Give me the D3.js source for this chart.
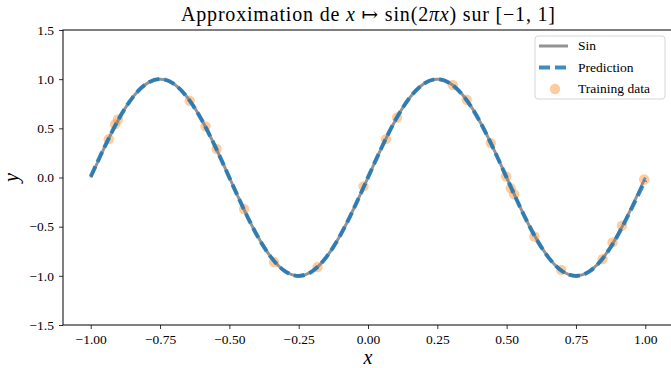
<!DOCTYPE html>
<html>
<head>
<meta charset="utf-8">
<script src="https://cdn.jsdelivr.net/npm/d3@7"></script>
<style>
  body { margin: 0; background: #fff; }
  text { font-family: "Liberation Serif", "DejaVu Serif", serif; fill: #000; }
</style>
</head>
<body>
<div class="canvas"></div>
<script>
// grille en x pour les courbes
const gridX = [
  -1.00, -0.95, -0.90, -0.85, -0.80, -0.75, -0.70, -0.65, -0.60, -0.55,
  -0.50, -0.45, -0.40, -0.35, -0.30, -0.25, -0.20, -0.15, -0.10, -0.05,
  0.00, 0.05, 0.10, 0.15, 0.20, 0.25, 0.30, 0.35, 0.40, 0.45,
  0.50, 0.55, 0.60, 0.65, 0.70, 0.75, 0.80, 0.85, 0.90, 0.95, 1.00
];
const sinY = [
  0.000, 0.309, 0.588, 0.809, 0.951, 1.000, 0.951, 0.809, 0.588, 0.309,
  0.000, -0.309, -0.588, -0.809, -0.951, -1.000, -0.951, -0.809, -0.588, -0.309,
  0.000, 0.309, 0.588, 0.809, 0.951, 1.000, 0.951, 0.809, 0.588, 0.309,
  0.000, -0.309, -0.588, -0.809, -0.951, -1.000, -0.951, -0.809, -0.588, -0.309, 0.000
];
const predY = [
  0.010, 0.312, 0.590, 0.810, 0.952, 1.002, 0.952, 0.808, 0.587, 0.308,
  -0.001, -0.310, -0.589, -0.810, -0.952, -1.001, -0.951, -0.808, -0.588, -0.309,
  0.001, 0.310, 0.589, 0.810, 0.951, 1.000, 0.950, 0.808, 0.587, 0.308,
  -0.001, -0.310, -0.589, -0.810, -0.952, -1.001, -0.952, -0.811, -0.592, -0.318, -0.030
];

// données d'entraînement
const trainX = [
  -0.935, -0.912, -0.902, -0.643, -0.586, -0.546, -0.447, -0.339, -0.182, -0.016,
  0.065, 0.105, 0.306, 0.356, 0.443, 0.498, 0.515, 0.527, 0.600, 0.697,
  0.846, 0.882, 0.916, 0.996
];
const trainY = [
  0.39, 0.54, 0.59, 0.78, 0.52, 0.29, -0.32, -0.86, -0.91, -0.09,
  0.39, 0.61, 0.94, 0.79, 0.35, 0.01, -0.11, -0.17, -0.60, -0.94,
  -0.83, -0.66, -0.49, -0.02
];

const xTicks = [-1.0, -0.75, -0.5, -0.25, 0.0, 0.25, 0.5, 0.75, 1.0];
const yTicks = [-1.5, -1.0, -0.5, 0.0, 0.5, 1.0, 1.5];

const width = 671, height = 368;
const margin = { top: 30, left: 63, bottom: 43 };
const plotW = 610;
const plotH = height - margin.top - margin.bottom;

const svg = d3.select(".canvas").append("svg")
  .attr("width", width)
  .attr("height", height);

const x = d3.scaleLinear().domain([-1.1, 1.1]).range([margin.left, margin.left + plotW]);
const y = d3.scaleLinear().domain([-1.5, 1.5]).range([margin.top + plotH, margin.top]);

const fmtMinus = s => s.replace("-", "\u2212");

// axes
// prettier-ignore
svg.append("g")
  .attr("transform", `translate(0,${margin.top + plotH})`)
  .call(d3.axisBottom(x).tickValues(xTicks).tickSize(4).tickPadding(5)
    .tickFormat(d => fmtMinus(d3.format(".2f")(d))))
  .call(g => g.select(".domain").remove())
  .call(g => g.selectAll("line").attr("stroke", "#000").attr("stroke-width", 0.8))
  .call(g => g.selectAll("text").attr("font-size", 13.5).attr("font-family", null));

// prettier-ignore
svg.append("g")
  .attr("transform", `translate(${margin.left},0)`)
  .call(d3.axisLeft(y).tickValues(yTicks).tickSize(4).tickPadding(5)
    .tickFormat(d => fmtMinus(d3.format(".1f")(d))))
  .call(g => g.select(".domain").remove())
  .call(g => g.selectAll("line").attr("stroke", "#000").attr("stroke-width", 0.8))
  .call(g => g.selectAll("text").attr("font-size", 13.5).attr("font-family", null));

// cadre
svg.append("rect")
  .attr("x", margin.left)
  .attr("y", margin.top)
  .attr("width", plotW)
  .attr("height", plotH)
  .attr("fill", "none")
  .attr("stroke", "#000")
  .attr("stroke-width", 1);

const plot = svg.append("g");

// points d'entraînement (sous les courbes)
plot.selectAll("circle")
  .data(trainX)
  .join("circle")
  .attr("cx", d => x(d))
  .attr("cy", (d, i) => y(trainY[i]))
  .attr("r", 5.2)
  .attr("fill", "#ff7f0e")
  .attr("fill-opacity", 0.4);

const line = vals => d3.line()
  .x((d, i) => x(gridX[i]))
  .y(d => y(d))
  .curve(d3.curveNatural)(vals);

plot.append("path")
  .attr("d", line(sinY))
  .attr("fill", "none")
  .attr("stroke", "#808080")
  .attr("stroke-opacity", 0.85)
  .attr("stroke-width", 3);

plot.append("path")
  .attr("d", line(predY))
  .attr("fill", "none")
  .attr("stroke", "#1f77b4")
  .attr("stroke-opacity", 0.85)
  .attr("stroke-width", 4)
  .attr("stroke-dasharray", "11,5");

// titre et labels
const title = svg.append("text")
  .attr("x", margin.left + plotW / 2)
  .attr("y", 21)
  .attr("text-anchor", "middle")
  .attr("font-size", 20)
  .attr("textLength", 374)
  .attr("lengthAdjust", "spacing");
title.append("tspan").text("Approximation de ");
title.append("tspan").attr("font-style", "italic").text("x");
title.append("tspan").text(" \u21A6 sin(2");
title.append("tspan").attr("font-style", "italic").text("\u03C0x");
title.append("tspan").text(") sur [\u22121, 1]");

svg.append("text")
  .attr("x", margin.left + plotW / 2)
  .attr("y", 364)
  .attr("text-anchor", "middle")
  .attr("font-size", 20)
  .attr("font-style", "italic")
  .text("x");

svg.append("text")
  .attr("transform", `translate(18,${y(0)}) rotate(-90)`)
  .attr("text-anchor", "middle")
  .attr("font-size", 20)
  .attr("font-style", "italic")
  .text("y");

// légende
const legend = svg.append("g").attr("transform", "translate(535,36)");
legend.append("rect")
  .attr("width", 130)
  .attr("height", 63)
  .attr("rx", 3)
  .attr("fill", "#fff")
  .attr("fill-opacity", 0.8)
  .attr("stroke", "#d6d6d6");

const entries = ["Sin", "Prediction", "Training data"];
entries.forEach((name, i) => {
  const cy = 10 + i * 21.5;
  if (i === 0) {
    legend.append("line").attr("x1", 4).attr("x2", 33).attr("y1", cy).attr("y2", cy)
      .attr("stroke", "#808080").attr("stroke-opacity", 0.85).attr("stroke-width", 3);
  } else if (i === 1) {
    legend.append("line").attr("x1", 4).attr("x2", 33).attr("y1", cy).attr("y2", cy)
      .attr("stroke", "#1f77b4").attr("stroke-opacity", 0.85).attr("stroke-width", 4)
      .attr("stroke-dasharray", "11,5");
  } else {
    legend.append("circle").attr("cx", 20).attr("cy", cy).attr("r", 5.2)
      .attr("fill", "#ff7f0e").attr("fill-opacity", 0.4);
  }
  legend.append("text")
    .attr("x", 43)
    .attr("y", cy + 4)
    .attr("font-size", 13.5)
    .text(name);
});
</script>
</body>
</html>
